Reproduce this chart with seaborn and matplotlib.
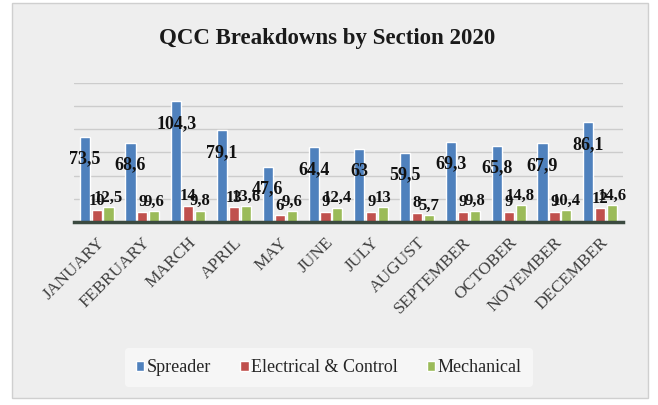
import matplotlib
matplotlib.use("Agg")
import matplotlib.pyplot as plt
import seaborn as sns
import pandas as pd
from matplotlib.patches import Rectangle

months = ["JANUARY", "FEBRUARY", "MARCH", "APRIL", "MAY", "JUNE", "JULY",
          "AUGUST", "SEPTEMBER", "OCTOBER", "NOVEMBER", "DECEMBER"]
spreader = [73.5, 68.6, 104.3, 79.1, 47.6, 64.4, 63, 59.5, 69.3, 65.8, 67.9, 86.1]
electrical = [10, 9, 14, 13, 6, 9, 9, 8, 9, 9, 9, 12]
mechanical = [12.5, 9.6, 9.8, 13.6, 9.6, 12.4, 13, 5.7, 9.8, 14.8, 10.4, 14.6]
series = ["Spreader", "Electrical & Control", "Mechanical"]
colors = ["#4F81BD", "#C0504D", "#9BBB59"]

rows = []
for i, m in enumerate(months):
    rows.append((m, series[0], spreader[i]))
    rows.append((m, series[1], electrical[i]))
    rows.append((m, series[2], mechanical[i]))
df = pd.DataFrame(rows, columns=["month", "section", "value"])

sns.set_theme(style="white")
plt.rcParams["font.family"] = ["Liberation Serif", "DejaVu Serif"]

fig = plt.figure(figsize=(6.58, 4.05), dpi=100)
fig.patch.set_facecolor("white")
fig.patches.append(Rectangle((0.018, 0.018), 0.967, 0.975, transform=fig.transFigure,
                             facecolor="#eeeeee", edgecolor="#cfcfcf", lw=1, zorder=-10))

ax = fig.add_axes([0.112, 0.452, 0.835, 0.343])
ax.set_facecolor("none")
sns.barplot(data=df, x="month", y="value", hue="section", hue_order=series,
            palette=colors, width=0.78, gap=0.15, ax=ax, legend=True, saturation=1)

ax.set_ylim(0, 120)
ax.set_yticks(range(0, 121, 20))
ax.yaxis.grid(True, color="#cccccc", lw=1)
ax.set_axisbelow(True)
ax.tick_params(axis="y", left=False, labelleft=False)
ax.tick_params(axis="x", bottom=False, pad=3)
for s in ["top", "right", "left"]:
    ax.spines[s].set_visible(False)
ax.spines["bottom"].set_color("#3b4a40")
ax.spines["bottom"].set_linewidth(2.5)
ax.set_xlabel("")
ax.set_ylabel("")

for lab in ax.get_xticklabels():
    lab.set_rotation(45)
    lab.set_ha("right")
    lab.set_rotation_mode("anchor")
    lab.set_fontsize(12.5)
    lab.set_color("#404040")

fmt = lambda v: f"{v:g}".replace(".", ",")
conts = ax.containers
ax.bar_label(conts[0], labels=[fmt(v) for v in spreader], label_type="edge",
             padding=-22, fontsize=13, fontweight="bold", color="#111111")
ax.bar_label(conts[1], labels=[fmt(v) for v in electrical], label_type="edge",
             padding=1, fontsize=12, fontweight="bold", color="#111111")
ax.bar_label(conts[2], labels=[fmt(v) for v in mechanical], label_type="edge",
             padding=1, fontsize=12, fontweight="bold", color="#111111")

leg = ax.get_legend()
leg.remove()
handles, labels = ax.get_legend_handles_labels()
fig.legend(handles[:3], labels[:3], loc="center", bbox_to_anchor=(0.5, 0.092),
           ncol=3, frameon=True, fontsize=13, handlelength=0.45, handleheight=0.45,
           handletextpad=0.15, columnspacing=1.6, facecolor="#f8f8f8", edgecolor="none",
           framealpha=0.9, borderpad=0.6)

fig.text(0.497, 0.905, "QCC Breakdowns by Section 2020", ha="center", va="center",
         fontsize=16.5, fontweight="bold", color="#1a1a1a")

fig.savefig("out.png", dpi=100)
